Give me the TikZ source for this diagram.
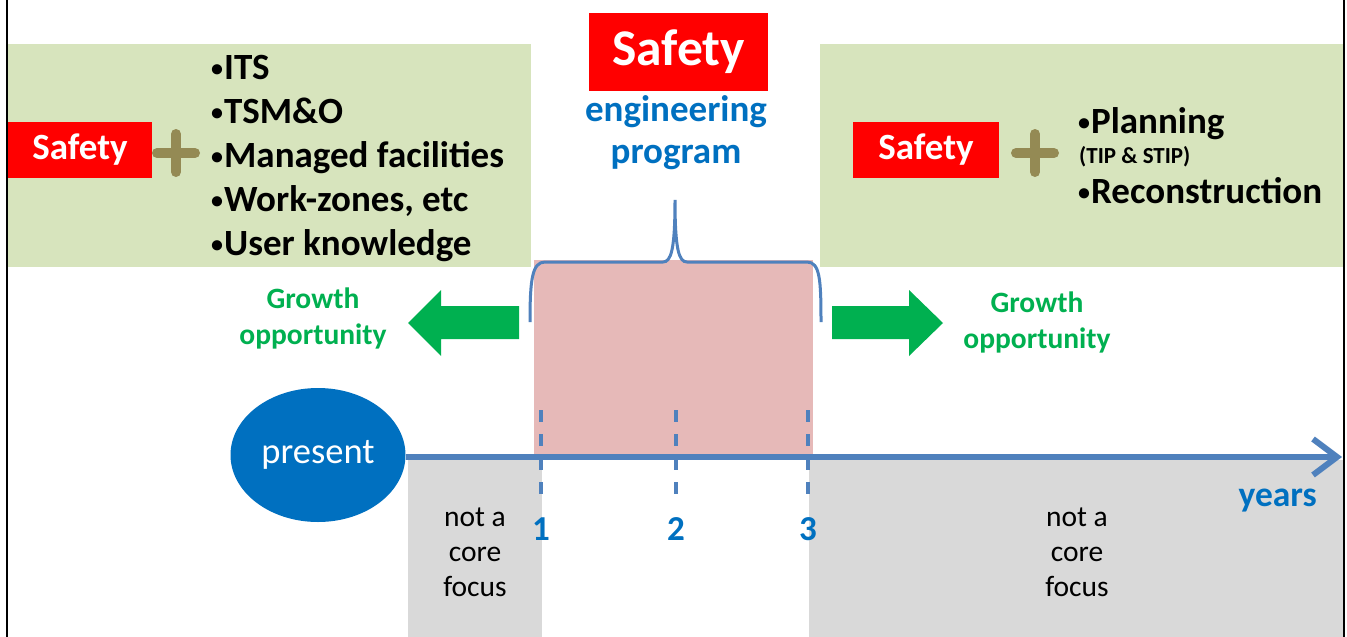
\documentclass[tikz,border=0pt]{standalone}
\usepackage{fontspec}
\setmainfont{Carlito}
\usetikzlibrary{arrows.meta}
\usetikzlibrary{shapes.geometric}
\definecolor{panelgreen}{HTML}{D7E4BD}
\definecolor{safetyred}{HTML}{FF0000}
\definecolor{plusolive}{HTML}{948A54}
\definecolor{programpink}{HTML}{E6B9B8}
\definecolor{focusgray}{HTML}{D9D9D9}
\definecolor{textblue}{HTML}{0070C0}
\definecolor{axisblue}{HTML}{4F81BD}
\definecolor{growthgreen}{HTML}{00B050}
\newcommand{\itembullet}{\raisebox{3pt}{\fontsize{24}{24}\selectfont•}\hspace{1pt}}
\tikzset{
  safetybox/.style={fill=safetyred, text=white, inner sep=0pt, font=\bfseries\fontsize{37}{40}\selectfont},
  item/.style={anchor=base west, inner sep=0pt, font=\bfseries\fontsize{37}{44}\selectfont},
  plussign/.style={draw=plusolive, line width=10pt, line cap=round},
  growth/.style={text=growthgreen, inner sep=0pt, align=center, font=\bfseries\fontsize{29.5}{36}\selectfont},
  focus/.style={inner sep=0pt, align=center, font=\fontsize{29.5}{35}\selectfont},
  tick/.style={draw=axisblue, line width=4pt, dash pattern=on 12pt off 12pt},
  year/.style={text=textblue, inner sep=0pt, anchor=base, font=\bfseries\fontsize{35}{38}\selectfont}
}
\begin{document}
\begin{tikzpicture}[x=1pt,y=-1pt]
    \useasboundingbox[fill=white] (0,0) rectangle (1347,637);
    % Frame lines
    \draw[line width=1.2pt] (7,0) -- (7,637);
    \draw[line width=1.2pt] (1344,0) -- (1344,637);
    % Green panels
    \fill[panelgreen] (8,44) rectangle (531,267);
    \fill[panelgreen] (820,44) rectangle (1343,267);
    % Gray "not a core focus" areas
    \fill[focusgray] (408,460) rectangle (542,637);
    \fill[focusgray] (809,460) rectangle (1343,637);
    % Pink engineering program area
    \fill[programpink] (534,260) rectangle (813,457);
    %
    % Top title
    \node[safetybox, minimum width=179pt, minimum height=78pt, font=\bfseries\fontsize{51.5}{54}\selectfont] (safetyTop) at (678.5,52) {Safety};
    \node[text=textblue, inner sep=0pt, anchor=base, font=\bfseries\fontsize{37}{42}\selectfont] (engTop) at (676,121) {engineering};
    \node[text=textblue, inner sep=0pt, anchor=base, font=\bfseries\fontsize{37}{42}\selectfont] (progTop) at (676,163) {program};
    %
    % Left panel: short term
    \node[safetybox, minimum width=144pt, minimum height=56pt] (safetyL) at (80,150) {Safety};
    \coordinate (plusL) at (176,153);
    \draw[plussign] ([xshift=-19pt]plusL) -- ([xshift=19pt]plusL);
    \draw[plussign] ([yshift=-19pt]plusL) -- ([yshift=19pt]plusL);
    \node[item] (itemITS) at (211,79) {\itembullet ITS};
    \node[item] (itemTSMO) at (211,123) {\itembullet TSM\&O};
    \node[item] (itemManaged) at (211,167) {\itembullet Managed facilities};
    \node[item] (itemWork) at (211,211) {\itembullet Work-zones, etc};
    \node[item] (itemUser) at (211,255) {\itembullet User knowledge};
    %
    % Right panel: long term
    \node[safetybox, minimum width=146pt, minimum height=56pt] (safetyR) at (926,150) {Safety};
    \coordinate (plusR) at (1035,153);
    \draw[plussign] ([xshift=-19pt]plusR) -- ([xshift=19pt]plusR);
    \draw[plussign] ([yshift=-19pt]plusR) -- ([yshift=19pt]plusR);
    \node[item] (itemPlanning) at (1078,133) {\itembullet Planning};
    \node[item, font=\bfseries\fontsize{23}{26}\selectfont] (itemTIP) at (1079,163) {(TIP \& STIP)};
    \node[item] (itemRecon) at (1078,203) {\itembullet Reconstruction};
    %
    % Brace over the program
    \draw[axisblue, line width=3pt] (530,322) .. controls (530,280) and (532,262) .. (545,262) -- (663,262)
        .. controls (671,262) and (675,250) .. (675,200) .. controls (675,250) and (679,262) .. (687,262)
        -- (807,262) .. controls (820,262) and (821,280) .. (821,322);
    %
    % Growth arrows
    \fill[growthgreen] (519,306) -- (441,306) -- (441,290) -- (408,323) -- (441,356) -- (441,339) -- (519,339) -- cycle;
    \fill[growthgreen] (832,306) -- (909,306) -- (909,290) -- (943,323) -- (909,356) -- (909,339) -- (832,339) -- cycle;
    \node[growth] (growthL) at (313,318) {Growth\\opportunity};
    \node[growth] (growthR) at (1037,322) {Growth\\opportunity};
    %
    % Time axis
    \node[fill=textblue, ellipse, minimum width=175pt, minimum height=134pt, inner sep=0pt, text=white, font=\fontsize{36.5}{40}\selectfont] (present) at (318,455) {present};
    \coordinate (axisEnd) at (1342,457);
    \draw[axisblue, line width=6pt, -{Straight Barb[length=24pt, width=36pt]}] (present.east |- axisEnd) -- (axisEnd);
    \node[year, anchor=base east, font=\bfseries\fontsize{35.5}{38}\selectfont] (years) at (1317,506) {years};
    %
    % Year ticks
    \draw[tick] (541,410) -- (541,498);
    \draw[tick] (676,410) -- (676,498);
    \draw[tick] (808,410) -- (808,498);
    \node[year] (yearOne) at (541,540) {1};
    \node[year] (yearTwo) at (676,540) {2};
    \node[year] (yearThree) at (808,540) {3};
    %
    % Not a core focus
    \node[focus] (focusL) at (475,552) {not a\\core\\focus};
    \node[focus] (focusR) at (1077,552) {not a\\core\\focus};
\end{tikzpicture}
\end{document}
